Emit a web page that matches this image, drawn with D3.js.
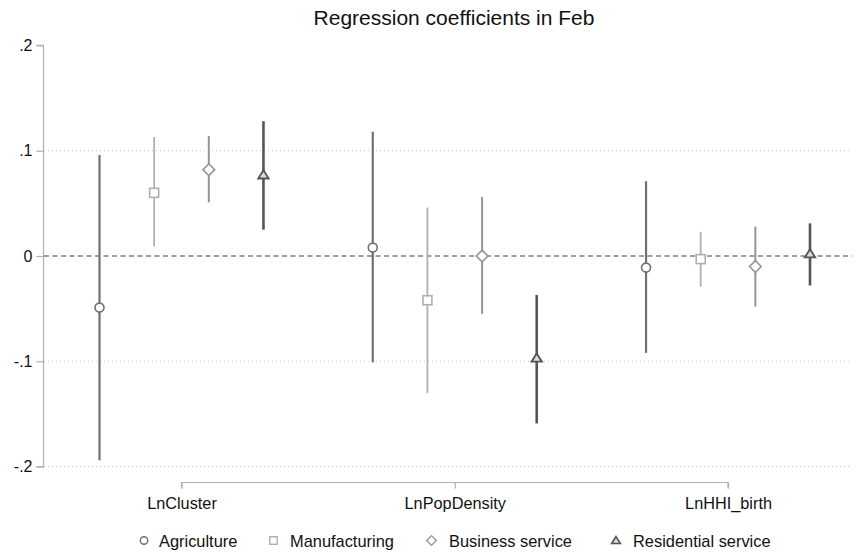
<!DOCTYPE html>
<html>
<head>
<meta charset="utf-8">
<script src="https://cdn.jsdelivr.net/npm/d3@7"></script>
<style>
  html, body { margin: 0; padding: 0; background: #fff; }
  svg { display: block; font-family: "Liberation Sans", Arial, sans-serif; }
</style>
</head>
<body>
<svg id="chart" width="856" height="554"></svg>
<script>
const title = "Regression coefficients in Feb";
const categories = ["LnCluster", "LnPopDensity", "LnHHI_birth"];
const seriesNames = ["Agriculture", "Manufacturing", "Business service", "Residential service"];
const yTicks = [0.2, 0.1, 0, -0.1, -0.2];
const yTickLabels = [".2", ".1", "0", "-.1", "-.2"];
const gridValues = [0.1, -0.1, -0.2];

const agriCoef = [-0.049, 0.008, -0.011];
const agriLo   = [-0.194, -0.101, -0.092];
const agriHi   = [0.096, 0.118, 0.071];
const manuCoef = [0.060, -0.042, -0.003];
const manuLo   = [0.009, -0.130, -0.029];
const manuHi   = [0.113, 0.046, 0.023];
const busCoef  = [0.082, 0.000, -0.010];
const busLo    = [0.051, -0.055, -0.048];
const busHi    = [0.114, 0.056, 0.028];
const resCoef  = [0.077, -0.097, 0.002];
const resLo    = [0.025, -0.159, -0.028];
const resHi    = [0.128, -0.037, 0.031];

const styles = [
  { shape: "circle",   color: "#707070", width: 2.2 },
  { shape: "square",   color: "#b0b0b0", width: 1.8 },
  { shape: "diamond",  color: "#959595", width: 2.0 },
  { shape: "triangle", color: "#555555", width: 2.6 }
];
const seriesData = [
  { coef: agriCoef, lo: agriLo, hi: agriHi },
  { coef: manuCoef, lo: manuLo, hi: manuHi },
  { coef: busCoef,  lo: busLo,  hi: busHi },
  { coef: resCoef,  lo: resLo,  hi: resHi }
];

const svg = d3.select("#chart");
const y = d3.scaleLinear().domain([-0.2, 0.2]).range([466.6, 45.4]);
const x = d3.scaleLinear().domain([0, 13]).range([99.5, 810]);
const slot = (g, s) => 5 * g + s;

// title
svg.append("text").attr("x", 454).attr("y", 24.5).attr("text-anchor", "middle")
  .attr("font-size", 21).attr("fill", "#111").text(title);

// grid
svg.append("g").selectAll("line").data(gridValues).join("line")
  .attr("x1", 44).attr("x2", 852)
  .attr("y1", d => y(d)).attr("y2", d => y(d))
  .attr("stroke", "#c8c8c8").attr("stroke-width", 1).attr("stroke-dasharray", "1,3");

// zero line
svg.append("line").attr("x1", 44).attr("x2", 852).attr("y1", y(0)).attr("y2", y(0))
  .attr("stroke", "#808080").attr("stroke-width", 1.3).attr("stroke-dasharray", "5,3.5");

// y axis
const yAxis = d3.axisLeft(y).tickValues(yTicks).tickSize(7).tickPadding(4)
  .tickFormat((d, i) => yTickLabels[i]);
const gy = svg.append("g").attr("transform", "translate(43.5,0)").call(yAxis);
gy.select(".domain").attr("stroke", "#b0b0b0").attr("stroke-width", 1.2).attr("d", `M-7,${y(0.2)}H0V${y(-0.2)}H-7`);
gy.selectAll(".tick line").attr("stroke", "#b0b0b0").attr("stroke-width", 1.2);
gy.selectAll(".tick text").attr("font-size", 16).attr("fill", "#111")
  .attr("font-family", "Liberation Sans, Arial, sans-serif");

// x axis bracket
const xAxis = d3.axisBottom(x).tickValues(categories.map((c, g) => slot(g, 1.5)))
  .tickSize(6).tickPadding(9).tickFormat((d, i) => categories[i]);
const gx = svg.append("g").attr("transform", "translate(0,482.5)").call(xAxis);
gx.select(".domain").attr("stroke", "#b0b0b0").attr("stroke-width", 1.2)
  .attr("d", `M${x(1.5)},6V0H${x(11.5)}V6`);
gx.selectAll(".tick line").attr("stroke", "#b0b0b0").attr("stroke-width", 1.2);
gx.selectAll(".tick text").attr("font-size", 16.3).attr("fill", "#111")
  .attr("font-family", "Liberation Sans, Arial, sans-serif");

function marker(sel, shape, size, color, sw) {
  const r = size / 2;
  if (shape === "circle") {
    sel.append("circle").attr("r", r).attr("fill", "#fff").attr("stroke", color).attr("stroke-width", sw);
  } else if (shape === "square") {
    sel.append("rect").attr("x", -r).attr("y", -r).attr("width", size).attr("height", size)
      .attr("fill", "#fff").attr("stroke", color).attr("stroke-width", sw);
  } else if (shape === "diamond") {
    const d = r * 1.3;
    sel.append("path").attr("d", `M0,${-d}L${d},0L0,${d}L${-d},0Z`)
      .attr("fill", "#fff").attr("stroke", color).attr("stroke-width", sw);
  } else {
    const h = r * 1.05;
    sel.append("path").attr("d", `M0,${-h}L${h * 1.1},${h * 0.75}L${-h * 1.1},${h * 0.75}Z`)
      .attr("fill", "#ddd").attr("stroke", color).attr("stroke-width", sw * 1.15);
  }
}

// CIs and points
seriesData.forEach((sd, s) => {
  const st = styles[s];
  const g = svg.append("g");
  categories.forEach((c, gi) => {
    const cx = x(slot(gi, s));
    g.append("line").attr("x1", cx).attr("x2", cx)
      .attr("y1", y(sd.lo[gi])).attr("y2", y(sd.hi[gi]))
      .attr("stroke", st.color).attr("stroke-width", st.width);
  });
  categories.forEach((c, gi) => {
    const cx = x(slot(gi, s));
    const m = g.append("g").attr("transform", `translate(${cx},${y(sd.coef[gi])})`);
    marker(m, st.shape, 9, st.color, 1.6);
  });
});

// legend
const legendMarkerX = [144, 273.5, 431.5, 616];
const legendTextX = [159, 290, 449, 633];
const lg = svg.append("g");
seriesNames.forEach((n, s) => {
  const st = styles[s];
  const m = lg.append("g").attr("transform", `translate(${legendMarkerX[s]},540.5)`);
  marker(m, st.shape, 7.5, st.color, 1.4);
  lg.append("text").attr("x", legendTextX[s]).attr("y", 546.5).attr("font-size", 16.4)
    .attr("fill", "#111").text(n);
});
</script>
</body>
</html>
